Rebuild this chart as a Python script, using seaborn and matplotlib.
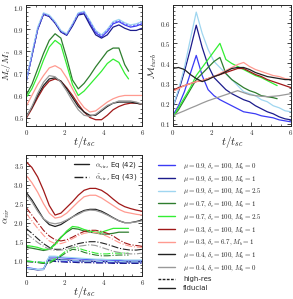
import numpy as np
import pandas as pd
import seaborn as sns
import matplotlib.pyplot as plt
from matplotlib.lines import Line2D
from matplotlib.ticker import FuncFormatter, MultipleLocator, AutoMinorLocator

sns.set_style("ticks", {"xtick.direction": "in", "ytick.direction": "in"})
plt.rcParams['font.family'] = ['DejaVu Serif']
plt.rcParams['mathtext.fontset'] = 'cm'

# time grids (t / t_sc)
T = [0, 0.3, 0.6, 0.9, 1.2, 1.5, 1.8, 2.1, 2.4, 2.7, 3.0, 3.3, 3.6, 3.9, 4.2, 4.5, 4.8, 5.1, 5.4, 5.7, 6.0]
T_short = [0, 0.3, 0.6, 0.9, 1.2, 1.5, 1.8, 2.1, 2.4, 2.7, 3.0, 3.3, 3.6, 3.9, 4.2, 4.5, 4.8, 5.1, 5.3]

# runs: name, colour, legend label
runs = ["b0", "b1", "b25", "g1", "g25", "r1", "s1", "k1", "k0"]
colors = {"b0": "#3b3bf5", "b1": "#1c1c8c", "b25": "#9fd6f0", "g1": "#2e7d2e", "g25": "#33ee33",
          "r1": "#a01818", "s1": "#ff9a90", "k1": "#222222", "k0": "#999999"}
labels = [r"$\mu = 0.9, \delta_c = 100, M_b = 0$",
          r"$\mu = 0.9, \delta_c = 100, M_b = 1$",
          r"$\mu = 0.9, \delta_c = 100, M_b = 2.5$",
          r"$\mu = 0.7, \delta_c = 100, M_b = 1$",
          r"$\mu = 0.7, \delta_c = 100, M_b = 2.5$",
          r"$\mu = 0.3, \delta_c = 100, M_b = 1$",
          r"$\mu = 0.3, \delta_c = 6.7, M_b = 1$",
          r"$\mu = 0.4, \delta_c = 100, M_b = 1$",
          r"$\mu = 0.4, \delta_c = 100, M_b = 0$"]

# M_c / M_i
mc = {
    "b0": [0.66, 0.78, 0.90, 0.97, 0.96, 0.93, 0.89, 0.875, 0.92, 0.97, 0.975, 0.93, 0.885, 0.865, 0.89, 0.925, 0.935, 0.92, 0.91, 0.915, 0.925],
    "b1": [0.66, 0.78, 0.90, 0.968, 0.958, 0.928, 0.888, 0.873, 0.915, 0.965, 0.97, 0.92, 0.875, 0.86, 0.875, 0.91, 0.92, 0.905, 0.895, 0.895, 0.905],
    "b25": [0.66, 0.79, 0.91, 0.975, 0.965, 0.935, 0.895, 0.88, 0.925, 0.975, 0.982, 0.94, 0.895, 0.875, 0.9, 0.935, 0.945, 0.93, 0.92, 0.925, 0.935],
    "g1": [0.60, 0.65, 0.72, 0.79, 0.85, 0.88, 0.86, 0.77, 0.67, 0.63, 0.655, 0.69, 0.73, 0.765, 0.80, 0.815, 0.815, 0.74, 0.71],
    "g25": [0.59, 0.63, 0.69, 0.76, 0.82, 0.85, 0.83, 0.74, 0.65, 0.60, 0.62, 0.65, 0.68, 0.71, 0.745, 0.765, 0.75, 0.70, 0.675],
    "r1": [0.495, 0.54, 0.59, 0.635, 0.665, 0.675, 0.665, 0.635, 0.60, 0.56, 0.525, 0.50, 0.49, 0.49, 0.51, 0.535, 0.55, 0.56, 0.565, 0.565, 0.56],
    "s1": [0.55, 0.60, 0.65, 0.69, 0.725, 0.735, 0.72, 0.68, 0.63, 0.58, 0.545, 0.525, 0.53, 0.55, 0.57, 0.585, 0.595, 0.60, 0.60, 0.60, 0.60],
    "k1": [0.505, 0.545, 0.60, 0.645, 0.675, 0.68, 0.665, 0.63, 0.59, 0.55, 0.525, 0.51, 0.51, 0.53, 0.55, 0.565, 0.57, 0.57, 0.57, 0.565, 0.56],
    "k0": [0.50, 0.55, 0.61, 0.66, 0.69, 0.685, 0.66, 0.62, 0.575, 0.535, 0.51, 0.505, 0.515, 0.535, 0.555, 0.565, 0.575, 0.575, 0.575, 0.57, 0.56],
}
mc_highres_b0 = [0.66, 0.78, 0.90, 0.97, 0.96, 0.93, 0.89, 0.876, 0.921, 0.972, 0.978, 0.935, 0.89, 0.87, 0.895, 0.93, 0.94, 0.925, 0.915, 0.92, 0.93]

# M_turb
mt = {
    "b0": [0.14, 0.19, 0.26, 0.35, 0.44, 0.34, 0.27, 0.24, 0.22, 0.205, 0.19, 0.175, 0.16, 0.155, 0.15, 0.14, 0.135, 0.13, 0.12, 0.115, 0.11],
    "b1": [0.18, 0.26, 0.36, 0.47, 0.59, 0.48, 0.39, 0.33, 0.30, 0.27, 0.25, 0.235, 0.22, 0.21, 0.19, 0.175, 0.16, 0.15, 0.135, 0.125, 0.12],
    "b25": [0.18, 0.27, 0.38, 0.52, 0.655, 0.55, 0.47, 0.41, 0.38, 0.35, 0.32, 0.29, 0.26, 0.25, 0.24, 0.22, 0.21, 0.19, 0.18, 0.165, 0.16],
    "g1": [0.13, 0.17, 0.22, 0.27, 0.32, 0.35, 0.38, 0.41, 0.43, 0.35, 0.32, 0.30, 0.28, 0.265, 0.255, 0.24, 0.235, 0.23, 0.225],
    "g25": [0.13, 0.18, 0.23, 0.28, 0.34, 0.38, 0.42, 0.46, 0.50, 0.42, 0.40, 0.385, 0.37, 0.355, 0.34, 0.33, 0.315, 0.30, 0.29],
    "r1": [0.265, 0.28, 0.29, 0.30, 0.31, 0.315, 0.325, 0.335, 0.345, 0.355, 0.365, 0.375, 0.375, 0.36, 0.345, 0.335, 0.32, 0.31, 0.30, 0.29, 0.28],
    "s1": [0.26, 0.275, 0.29, 0.30, 0.31, 0.315, 0.325, 0.335, 0.35, 0.365, 0.38, 0.395, 0.405, 0.385, 0.37, 0.36, 0.35, 0.34, 0.335, 0.325, 0.32],
    "k1": [0.375, 0.38, 0.37, 0.345, 0.325, 0.31, 0.32, 0.335, 0.345, 0.36, 0.375, 0.38, 0.38, 0.37, 0.355, 0.345, 0.335, 0.33, 0.325, 0.32, 0.32],
    "k0": [0.14, 0.153, 0.165, 0.178, 0.19, 0.203, 0.215, 0.225, 0.235, 0.245, 0.255, 0.265, 0.255, 0.245, 0.24, 0.237, 0.235, 0.237, 0.24, 0.245, 0.25],
}

# alpha_vir, Eq (42)
av = {
    "b0": [0.82, 0.80, 0.77, 0.78, 1.10, 1.10, 1.08, 1.07, 1.06, 1.05, 1.04, 1.03, 1.03, 1.02, 1.02, 1.01, 1.01, 1.0, 1.0, 1.0, 1.0],
    "b1": [0.80, 0.78, 0.76, 0.77, 1.05, 1.04, 1.03, 1.02, 1.01, 1.0, 0.99, 0.99, 0.98, 0.98, 0.98, 0.97, 0.97, 0.97, 0.97, 0.97, 0.97],
    "b25": [0.80, 0.79, 0.77, 0.77, 1.12, 1.12, 1.10, 1.09, 1.08, 1.07, 1.06, 1.05, 1.04, 1.04, 1.03, 1.03, 1.03, 1.02, 1.02, 1.02, 1.02],
    "g1": [1.35, 1.33, 1.30, 1.27, 1.30, 1.45, 1.62, 1.75, 1.85, 1.83, 1.78, 1.75, 1.73, 1.70, 1.70, 1.72, 1.75, 1.75, 1.75],
    "g25": [1.40, 1.38, 1.35, 1.30, 1.30, 1.42, 1.60, 1.78, 1.90, 1.88, 1.82, 1.78, 1.75, 1.75, 1.80, 1.85, 1.85, 1.85, 1.85],
    "r1": [3.60, 3.45, 3.20, 2.85, 2.45, 2.20, 2.25, 2.40, 2.55, 2.72, 2.85, 2.90, 2.90, 2.85, 2.75, 2.62, 2.50, 2.42, 2.37, 2.33, 2.30],
    "s1": [3.25, 3.05, 2.80, 2.50, 2.25, 2.12, 2.15, 2.25, 2.40, 2.55, 2.68, 2.72, 2.72, 2.65, 2.55, 2.45, 2.35, 2.28, 2.25, 2.22, 2.20],
    "k1": [2.80, 2.60, 2.35, 2.10, 1.95, 1.90, 1.95, 2.05, 2.15, 2.25, 2.32, 2.35, 2.35, 2.30, 2.22, 2.13, 2.05, 2.00, 2.00, 2.03, 2.07],
    "k0": [2.75, 2.55, 2.30, 2.10, 2.00, 1.97, 2.00, 2.07, 2.15, 2.22, 2.30, 2.33, 2.32, 2.27, 2.20, 2.12, 2.05, 2.00, 2.00, 2.02, 2.05],
}

# alpha_vir tilde, Eq (43)
at = {
    "b0": [0.99, 0.98, 0.97, 0.95, 1.03, 1.0, 0.99, 0.98, 0.98, 0.97, 0.97, 0.97, 0.96, 0.96, 0.96, 0.96, 0.95, 0.95, 0.95, 0.95, 0.95],
    "b1": [0.98, 0.97, 0.96, 0.94, 1.0, 0.98, 0.97, 0.96, 0.96, 0.95, 0.95, 0.95, 0.94, 0.94, 0.94, 0.93, 0.93, 0.93, 0.93, 0.93, 0.93],
    "b25": [0.99, 0.98, 0.97, 0.96, 1.05, 1.03, 1.02, 1.01, 1.0, 1.0, 0.99, 0.99, 0.99, 0.98, 0.98, 0.98, 0.98, 0.97, 0.97, 0.97, 0.97],
    "g1": [0.98, 0.97, 0.95, 0.93, 0.93, 1.02, 1.12, 1.22, 1.30, 1.28, 1.22, 1.18, 1.15, 1.13, 1.13, 1.14, 1.15, 1.15, 1.15],
    "g25": [1.00, 0.98, 0.97, 0.95, 0.96, 1.05, 1.15, 1.27, 1.35, 1.33, 1.28, 1.24, 1.20, 1.18, 1.18, 1.20, 1.20, 1.20, 1.20],
    "r1": [2.40, 2.20, 2.00, 1.80, 1.65, 1.55, 1.52, 1.55, 1.62, 1.70, 1.77, 1.80, 1.80, 1.77, 1.72, 1.65, 1.55, 1.47, 1.42, 1.40, 1.38],
    "s1": [2.25, 2.05, 1.85, 1.67, 1.52, 1.45, 1.45, 1.50, 1.58, 1.66, 1.72, 1.75, 1.74, 1.70, 1.64, 1.56, 1.48, 1.42, 1.38, 1.36, 1.35],
    "k1": [1.85, 1.72, 1.58, 1.45, 1.35, 1.30, 1.30, 1.35, 1.40, 1.45, 1.48, 1.50, 1.50, 1.47, 1.43, 1.38, 1.33, 1.30, 1.28, 1.28, 1.30],
    "k0": [1.72, 1.60, 1.48, 1.38, 1.30, 1.27, 1.28, 1.30, 1.35, 1.38, 1.40, 1.42, 1.40, 1.35, 1.30, 1.25, 1.22, 1.20, 1.18, 1.18, 1.20],
}


def tgrid(vals):
    return T if len(vals) == len(T) else T_short


def draw(ax, vals, color, ls="-", lw=0.9):
    sns.lineplot(x=tgrid(vals), y=vals, ax=ax, color=color, lw=lw, ls=ls,
                 sort=False, estimator=None, legend=False)


def style(ax, ylim, ymajor, yfmt, ylabel, ylsize=7):
    ax.set_xlim(0, 6)
    ax.set_ylim(*ylim)
    ax.xaxis.set_major_locator(MultipleLocator(2))
    ax.xaxis.set_minor_locator(AutoMinorLocator(4))
    ax.yaxis.set_major_locator(MultipleLocator(ymajor))
    ax.yaxis.set_minor_locator(AutoMinorLocator(5))
    ax.xaxis.set_major_formatter(FuncFormatter(lambda v, p: r"$%g$" % v))
    ax.yaxis.set_major_formatter(FuncFormatter(lambda v, p: r"$" + (yfmt % v) + "$"))
    ax.tick_params(which="both", direction="in", top=True, right=True, labelsize=5, pad=1.5)
    ax.tick_params(which="major", length=3, width=0.6)
    ax.tick_params(which="minor", length=1.6, width=0.5)
    for s in ax.spines.values():
        s.set_linewidth(0.7)
    ax.set_xlabel(r"$t/t_{sc}$", fontsize=8, va="top")
    ax.set_ylabel(ylabel, fontsize=ylsize, va="center")
    ax.xaxis.set_label_coords(0.5, -0.07)
    ax.yaxis.set_label_coords(-0.165, 0.5)


fig = plt.figure(figsize=(2.93, 2.99), dpi=100)
ax1 = fig.add_axes([0.089, 0.579, 0.396, 0.404])
ax2 = fig.add_axes([0.589, 0.579, 0.404, 0.404])
ax3 = fig.add_axes([0.089, 0.077, 0.396, 0.405])

for r in runs:
    draw(ax1, mc[r], colors[r])
draw(ax1, mc_highres_b0, "#6f6ff8", ls=(0, (2, 1.5)), lw=0.8)
style(ax1, (0.462, 1.01), 0.1, "%.1f", r"$M_c/M_i$")

for r in runs:
    draw(ax2, mt[r], colors[r])
style(ax2, (0.09, 0.69), 0.1, "%.1f", r"$\mathcal{M}_{turb}$")

for r in runs:
    draw(ax3, av[r], colors[r])
    draw(ax3, at[r], colors[r], ls="-.", lw=0.8)
style(ax3, (0.6, 3.78), 0.5, "%.1f", r"$\alpha_{vir}$")
ax3.legend(handles=[Line2D([], [], color="#222222", lw=1.0, ls="-"),
                    Line2D([], [], color="#222222", lw=1.0, ls="-.")],
           labels=[r"$\alpha_{\rm vir}$, Eq (42)", r"$\tilde{\alpha}_{\rm vir}$, Eq (43)"],
           loc="upper right", frameon=False, prop={"family": "DejaVu Sans", "size": 5},
           handlelength=2.2, handletextpad=0.8, labelspacing=0.5, borderaxespad=0.3)

handles = [Line2D([], [], color=colors[r], lw=1.0) for r in runs]
handles += [Line2D([], [], color="#222222", lw=1.0, ls=(0, (2, 1))),
            Line2D([], [], color="#222222", lw=1.0)]
fig.legend(handles=handles, labels=labels + ["high-res", "fiducial"],
           loc="upper left", bbox_to_anchor=(0.53, 0.47), frameon=False,
           prop={"family": "DejaVu Sans", "size": 5},
           handlelength=2.4, handletextpad=1.2, labelspacing=0.45, borderaxespad=0)

fig.savefig("out.png", dpi=100)
